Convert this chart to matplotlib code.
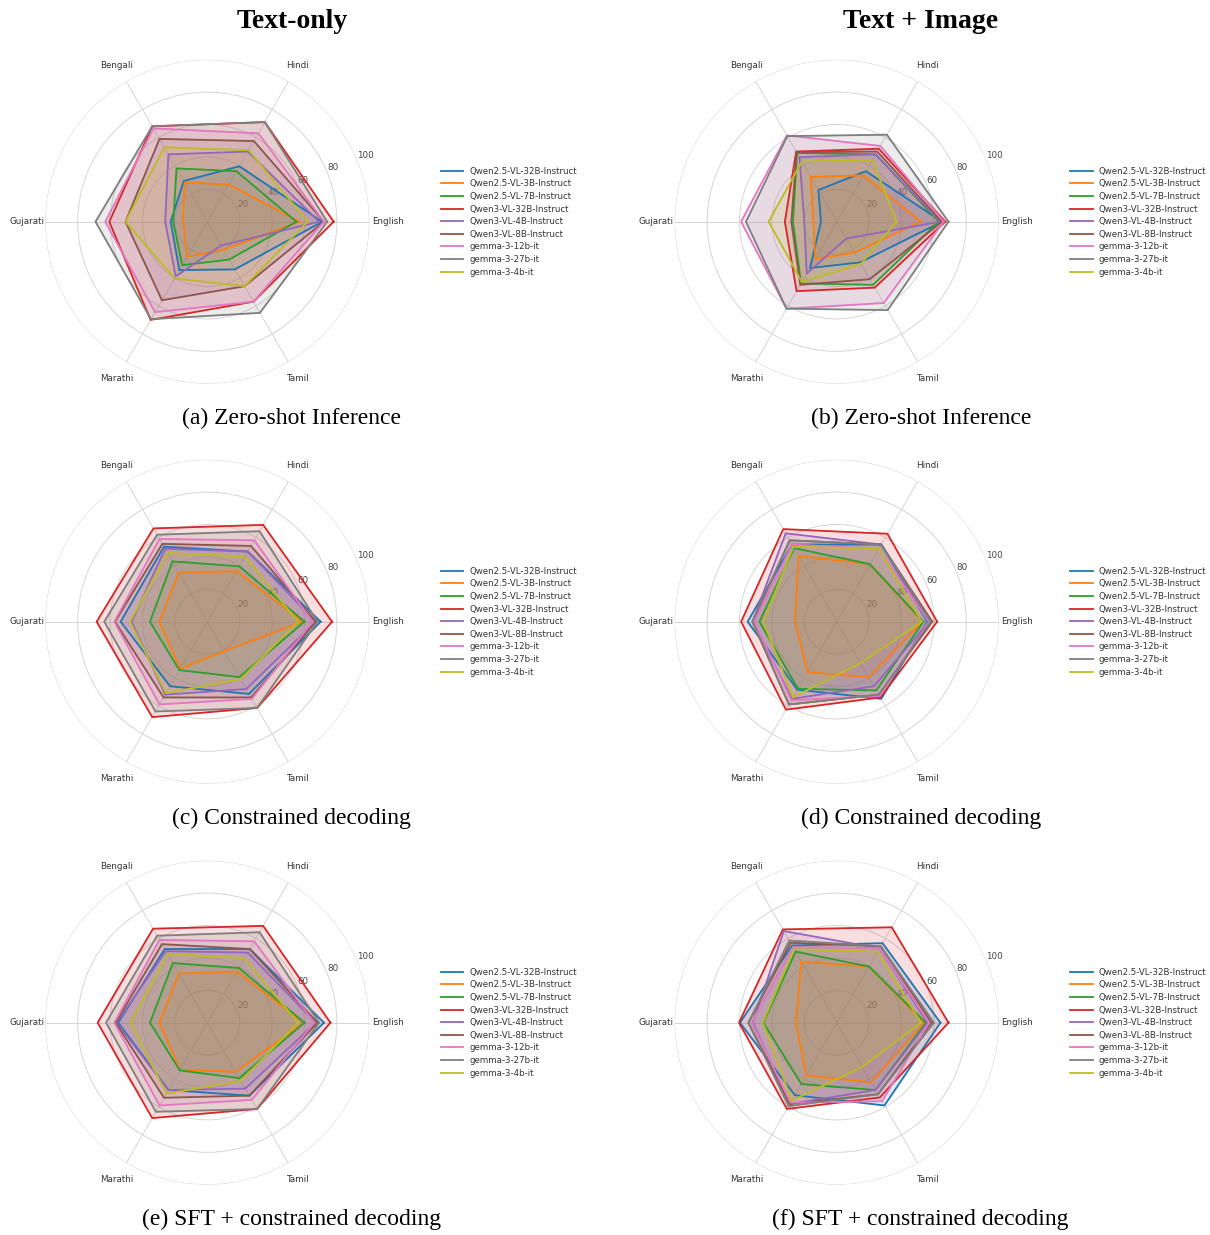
import numpy as np
import matplotlib.pyplot as plt

languages = ["English", "Hindi", "Bengali", "Gujarati", "Marathi", "Tamil"]
models = [
    "Qwen2.5-VL-32B-Instruct", "Qwen2.5-VL-3B-Instruct", "Qwen2.5-VL-7B-Instruct",
    "Qwen3-VL-32B-Instruct", "Qwen3-VL-4B-Instruct", "Qwen3-VL-8B-Instruct",
    "gemma-3-12b-it", "gemma-3-27b-it", "gemma-3-4b-it",
]
colors = ["#1f77b4", "#ff7f0e", "#2ca02c", "#d62728", "#9467bd",
          "#8c564b", "#e377c2", "#7f7f7f", "#bcbd22"]

# scores per model, columns follow `languages`
zeroshot_text = [
    [71, 39.5, 29, 22.6, 34.5, 34],
    [57, 26.5, 28, 15, 25, 20],
    [55, 36, 38, 21, 31, 27],
    [78, 71, 68, 60.5, 70, 57],
    [69, 50, 48, 26, 39, 17],
    [72, 57.5, 59, 50.5, 56, 46],
    [72, 63, 66.5, 63, 64.5, 57],
    [74, 71, 68, 69, 69.5, 65],
    [62, 51, 53, 50.5, 40.5, 46],
]
zeroshot_image = [
    [65, 36, 22.6, 9.7, 33, 29],
    [52, 33, 32, 14.4, 26.5, 22],
    [63, 48, 49, 27, 44, 45],
    [67, 52, 50, 32, 49.5, 47],
    [64, 48, 46, 20, 37, 12],
    [65, 50, 49.5, 28, 45, 41],
    [66, 54, 61.5, 59, 62, 58],
    [69, 62, 61, 56, 62, 63],
    [37, 44, 43, 42, 43, 30],
]
constrained_text = [
    [70, 50, 53.5, 53.5, 46, 51.5],
    [59, 36, 35, 29.6, 33.5, 21],
    [60, 39.5, 43, 35.4, 34.5, 39.5],
    [77, 69, 66.5, 68.3, 68, 61.5],
    [67, 50, 52, 46.7, 52, 48],
    [67, 54, 55.5, 57, 54, 54],
    [65, 58, 59, 57.4, 59, 55],
    [68, 64.5, 62, 63.6, 64, 61.5],
    [56, 46.5, 49, 47.7, 51, 41],
]
constrained_image = [
    [56, 55, 55, 55, 48.5, 55],
    [53, 41, 47, 25.7, 36, 39.5],
    [53.5, 41, 52.5, 47.7, 47.8, 49],
    [62, 62.7, 66, 59, 62.7, 54],
    [57, 55, 63, 52, 55, 46],
    [59, 55, 58, 52, 59, 52],
    [57, 52, 55, 51, 56, 53],
    [58, 55, 58, 52, 59, 52],
    [52.5, 52, 53.5, 45.3, 54, 29.5],
]
sft_text = [
    [72, 52.5, 52.5, 55, 48, 52],
    [59.5, 36.5, 35, 29.6, 33.5, 35],
    [60, 39, 42.5, 35.4, 34, 39.5],
    [76, 69, 67, 67.7, 68, 61.5],
    [67, 50, 51, 56, 48, 47],
    [68, 52.5, 56, 56.6, 53.5, 52],
    [66, 58, 59, 57.4, 59, 55],
    [69, 64.5, 62, 62.5, 63.5, 61.5],
    [56, 46, 49, 47.5, 50.5, 41.5],
]
sft_image = [
    [64, 56.7, 55, 59.7, 51.7, 59],
    [54, 40, 43.7, 25.3, 37.6, 42.5],
    [55, 40, 50.7, 45.3, 43.7, 48],
    [69, 68, 66.5, 60.3, 61.5, 53.3],
    [56, 53, 65.3, 51.8, 58, 48],
    [58.5, 54.5, 57, 54.5, 58, 51],
    [57, 53, 54, 52.5, 57, 56],
    [60, 54.5, 58.6, 54.5, 59.5, 51],
    [52, 50.6, 52.5, 45.7, 55.5, 31.5],
]

panels = [
    (zeroshot_text, "(a) Zero-shot Inference"),
    (zeroshot_image, "(b) Zero-shot Inference"),
    (constrained_text, "(c) Constrained decoding"),
    (constrained_image, "(d) Constrained decoding"),
    (sft_text, "(e) SFT + constrained decoding"),
    (sft_image, "(f) SFT + constrained decoding"),
]

W, H = 1210, 1235
plt.rcParams["font.family"] = "DejaVu Sans"
fig = plt.figure(figsize=(W / 100, H / 100), dpi=100)

angles = np.linspace(0, 2 * np.pi, len(languages), endpoint=False)
closed = np.concatenate([angles, angles[:1]])

col_cx = [207.3, 836.7]
row_cy = [221.7, 621.7, 1022.7]
radius = 162
serif = "Liberation Serif"


def draw_radar(ax, scores):
    ax.set_axisbelow(True)
    for name, vals, c in zip(models, scores, colors):
        v = np.concatenate([vals, vals[:1]])
        ax.plot(closed, v, color=c, lw=1.3, label=name)
        ax.fill(closed, v, color=c, alpha=0.15)
    ax.set_ylim(0, 100)
    ax.set_yticks([20, 40, 60, 80, 100])
    ax.set_yticklabels(["20", "40", "60", "80", "100"], fontsize=6.3, color="#444444")
    ax.set_rlabel_position(22.5)
    ax.set_xticks(angles)
    ax.set_xticklabels(languages, fontsize=6.3, color="#333333")
    ax.tick_params(axis="x", pad=3)
    ax.grid(color="#d5d5d5", lw=0.7)
    ax.spines["polar"].set_visible(False)
    leg = ax.legend(loc="center left", bbox_to_anchor=(1.21, 0.5), frameon=False,
                    fontsize=6.2, handlelength=2.6, handletextpad=0.7,
                    labelspacing=0.42, borderaxespad=0)
    for t in leg.get_texts():
        t.set_color("#333333")


for i, (scores, caption) in enumerate(panels):
    r, c = divmod(i, 2)
    cx, cy = col_cx[c], row_cy[r]
    ax = fig.add_axes([(cx - radius) / W, (H - cy - radius) / H,
                       2 * radius / W, 2 * radius / H], projection="polar")
    draw_radar(ax, scores)
    fig.text((cx + 84) / W, 1 - (cy + 196.5) / H, caption, ha="center", va="center",
             fontsize=17, family=serif)

fig.text(292 / W, 1 - 21 / H, "Text-only", ha="center", va="center",
         fontsize=20, weight="bold", family=serif)
fig.text(921 / W, 1 - 21 / H, "Text + Image", ha="center", va="center",
         fontsize=20, weight="bold", family=serif)

fig.savefig("out.png", dpi=100)
